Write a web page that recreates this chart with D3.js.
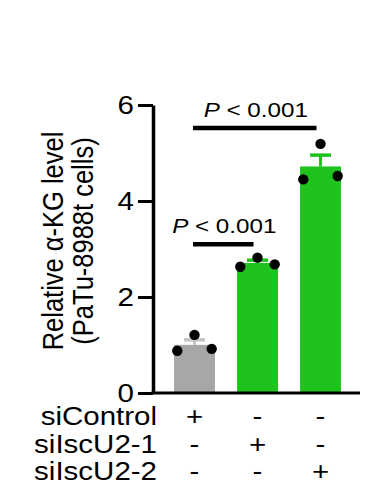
<!DOCTYPE html>
<html>
<meta charset="utf-8">
<head>
<title>alpha-KG bars</title>
<style>
body { margin: 0; background: #fff; }
text { font-family: "Liberation Sans", Arial, sans-serif; fill: #000; }
</style>
</head>
<body>
<script src="https://d3js.org/d3.v7.min.js"></script>
<script>

// data
var groups = ["siControl", "siIscU2-1", "siIscU2-2"];
var dots = [[0.88, 1.21, 0.92], [2.63, 2.82, 2.68], [4.45, 5.19, 4.52]];
var barColors = ["#a7a7a9", "#1ec31e", "#1ec31e"];
var errColors = ["#c4c4c4", "#1ec31e", "#1ec31e"];
var yTicks = [0, 2, 4, 6];
var rowLabels = ["siControl", "siIscU2-1", "siIscU2-2"];
var signs = [["+", "-", "-"], ["-", "+", "-"], ["-", "-", "+"]];
var brackets = [{from: 0, to: 2, y: 5.52, label: "P"}, {from: 0, to: 1, y: 3.1, label: "P"}];
var jitter = [-0.42, 0, 0.42];

var sx = 1.18; // the original figure is stretched sideways

var svg = d3.select("body").append("svg")
    .attr("width", 366).attr("height", 499);

var x = d3.scaleBand().domain(groups).range([163, 352])
    .paddingInner(0.35).paddingOuter(0.175);
var y = d3.scaleLinear().domain([0, 6]).range([393, 105]);

function stretched(sel, tx, ty, rot) {
  return sel.attr("transform", "translate(" + tx + "," + ty + ") scale(" + sx + ",1)" + (rot ? " rotate(" + rot + ")" : ""));
}

var stats = dots.map(function(d) {
  var m = d3.mean(d);
  return {mean: m, sem: d3.deviation(d) / Math.sqrt(d.length)};
});

// bars
svg.selectAll("rect.bar").data(groups).enter().append("rect")
  .attr("x", function(d) { return x(d); })
  .attr("width", x.bandwidth())
  .attr("y", function(d, i) { return y(stats[i].mean); })
  .attr("height", function(d, i) { return y(0) - y(stats[i].mean); })
  .attr("fill", function(d, i) { return barColors[i]; });

// error bars (upper only)
groups.forEach(function(g, i) {
  var cx = x(g) + x.bandwidth() / 2;
  var top = y(stats[i].mean + stats[i].sem);
  svg.append("line").attr("x1", cx).attr("x2", cx)
    .attr("y1", y(stats[i].mean)).attr("y2", top)
    .attr("stroke", errColors[i]).attr("stroke-width", 3);
  svg.append("line").attr("x1", cx - 10.5).attr("x2", cx + 10.5)
    .attr("y1", top).attr("y2", top)
    .attr("stroke", errColors[i]).attr("stroke-width", 3.5);
});

// dots
groups.forEach(function(g, i) {
  svg.selectAll(null).data(dots[i]).enter().append("circle")
    .attr("cx", function(d, j) { return x(g) + x.bandwidth() / 2 + jitter[j] * x.bandwidth(); })
    .attr("cy", function(d) { return y(d); })
    .attr("r", 5.2)
    .attr("fill", "#000");
});

// y axis
var yAxis = svg.append("g").attr("transform", "translate(153,0)")
  .call(d3.axisLeft(y).tickValues(yTicks).tickSize(15).tickSizeOuter(0).tickFormat(""));
yAxis.select(".domain").attr("stroke", "#000").attr("stroke-width", 3.5);
yAxis.selectAll(".tick line").attr("stroke", "#000").attr("stroke-width", 3);

yTicks.forEach(function(t) {
  stretched(svg.append("text"), 134, y(t) + 9, 0)
    .attr("text-anchor", "end").style("font-size", "25px").text(t);
});

// x axis line
svg.append("line").attr("x1", 151.5).attr("x2", 360)
  .attr("y1", y(0)).attr("y2", y(0))
  .attr("stroke", "#000").attr("stroke-width", 3);

// y label
stretched(svg.append("text"), 63, 241, -90)
  .attr("text-anchor", "middle").style("font-size", "25.5px").text("Relative \u03b1-KG level");
stretched(svg.append("text"), 93, 241, -90)
  .attr("text-anchor", "middle").style("font-size", "25.5px").text("(PaTu-8988t cells)");

// significance brackets
brackets.forEach(function(b) {
  var x1 = x(groups[b.from]) + x.bandwidth() / 2 - 1.5;
  var x2 = x(groups[b.to]) + x.bandwidth() / 2 - 4;
  svg.append("line").attr("x1", x1).attr("x2", x2)
    .attr("y1", y(b.y)).attr("y2", y(b.y))
    .attr("stroke", "#000").attr("stroke-width", 4.5);
  var t = stretched(svg.append("text"), (x1 + x2) / 2 + 1, y(b.y) - 11, 0)
    .attr("text-anchor", "middle").style("font-size", "20.5px");
  t.append("tspan").style("font-style", "italic").text(b.label);
  t.append("tspan").text(" < 0.001");
});

// condition table
rowLabels.forEach(function(r, i) {
  var by = 425 + i * 27.5;
  stretched(svg.append("text"), 157, by, 0)
    .attr("text-anchor", "end").style("font-size", "25px").text(r);
  groups.forEach(function(g, j) {
    stretched(svg.append("text"), x(g) + x.bandwidth() / 2, by, 0)
      .attr("text-anchor", "middle").style("font-size", "25px").text(signs[i][j]);
  });
});

</script>
</body>
</html>
